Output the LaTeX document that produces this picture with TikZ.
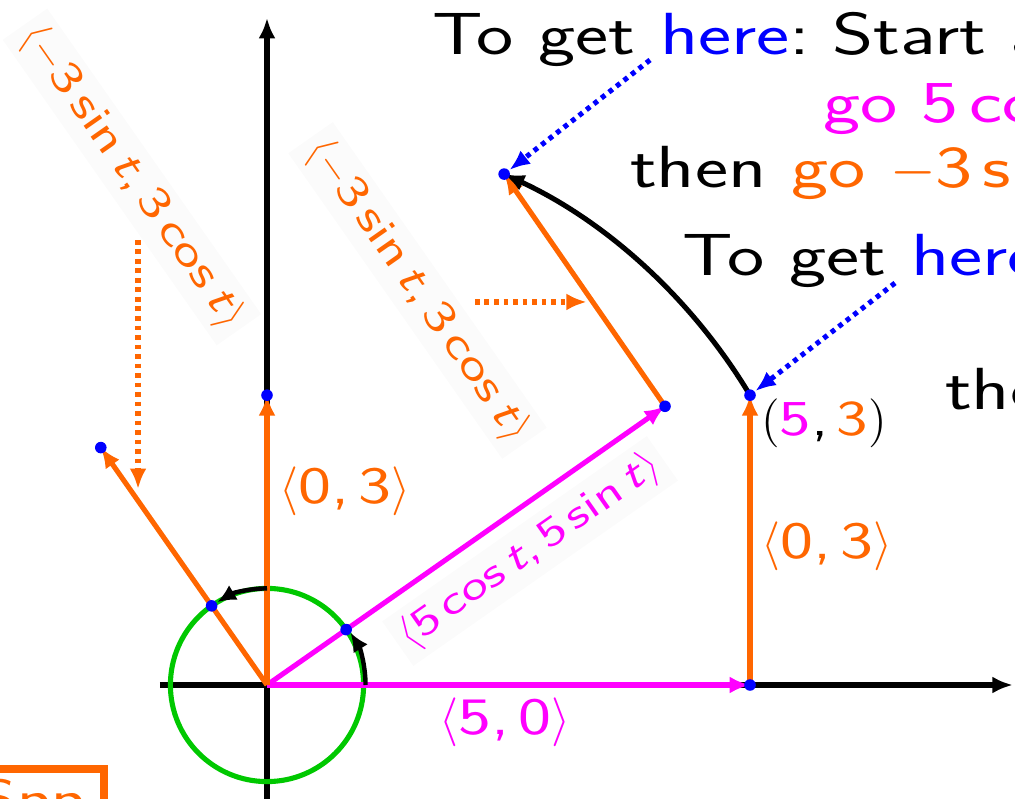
\documentclass[tikz,border=0pt]{standalone}
\usepackage{fontspec}
\setsansfont{Latin Modern Sans}[FakeStretch=1.33]
\usetikzlibrary{arrows.meta}
\definecolor{myorange}{RGB}{255,102,0}
\definecolor{mymag}{RGB}{255,0,255}
\definecolor{mygreen}{RGB}{0,200,0}
\definecolor{myblue}{RGB}{0,0,255}
\newcommand\vt{\textit{t}}
\frenchspacing
\begin{document}
\begin{tikzpicture}[
  font=\sffamily,
  every node/.style={inner sep=0pt, outer sep=0pt},
  tipA/.style={-{Latex[length=6pt,width=5pt]}},
  ax/.style={line width=1.5pt, tipA},
  orvec/.style={myorange, line width=1.5pt, tipA},
  magvec/.style={mymag, line width=1.5pt, tipA},
  bigarc/.style={black, line width=1.5pt, tipA},
  smallarc/.style={black, line width=1.3pt, -{Latex[length=5.5pt,width=5pt]}},
  dotarrow/.style={line width=1.5pt, dash pattern=on 1.4pt off 1.4pt, tipA},
  pt/.style={myblue},
  big/.style={font=\sffamily\fontsize{17.5}{21}\selectfont, anchor=base west},
  lab/.style={font=\sffamily\fontsize{15.5}{18}\selectfont},
  slab/.style={font=\sffamily\fontsize{14.8}{18}\selectfont},
  rlab/.style={font=\sffamily\fontsize{13}{16}\selectfont, fill=black!1.5, inner sep=2pt},
  mlab/.style={font=\sffamily\fontsize{12.2}{15}\selectfont, fill=black!1.5, inner sep=2pt}
]
\useasboundingbox (-2.764,-1.170) rectangle (7.743,7.091);
\clip (-2.764,-1.170) rectangle (7.743,7.091);

% coordinates
\coordinate (O) at (0,0);
\coordinate (xl) at (-1.108,0);
\coordinate (xr) at (7.72,0);
\coordinate (yb) at (0,-1.4);
\coordinate (yt) at (0,6.905);
\coordinate (A) at (5,0);
\coordinate (B) at (0,3);
\coordinate (C) at (5,3);
\coordinate (P) at (35:5.03);
\coordinate (Q) at (65.1:5.831);
\coordinate (R) at (-1.7207,2.4575);
\coordinate (c1) at (35:1);
\coordinate (c2) at (125:1);
\coordinate (a1) at (1.02,0);
\coordinate (a2) at (0,1.0);

% axes
\draw[ax] (xl) -- (xr);
\draw[ax] (yb) -- (yt);

% unit circle
\draw[mygreen, line width=1.5pt] (O) circle (1);

% vectors
\draw[magvec] (O) -- (A);
\draw[magvec] (O) -- (P);
\draw[orvec] (O) -- (B);
\draw[orvec] (A) -- (C);
\draw[orvec] (O) -- (R);
\draw[orvec] (P) -- (Q);
\draw[bigarc] (C) arc[start angle=30.964, end angle=65.1, radius=5.831];

% small angle arcs
\draw[smallarc] (a1) arc[start angle=0, end angle=32, radius=1.02];
\draw[smallarc] (a2) arc[start angle=90, end angle=121, radius=1.0];

% dotted pointers
\coordinate (d1s) at (-1.335,4.607);
\coordinate (d1e) at (-1.335,2.03);
\coordinate (d2s) at (2.153,3.965);
\coordinate (d2e) at (3.31,3.965);
\coordinate (b1s) at (3.965,6.470);
\coordinate (b2s) at (6.501,4.161);
\draw[dotarrow, myorange] (d1s) -- (d1e);
\draw[dotarrow, myorange] (d2s) -- (d2e);
\draw[dotarrow, myblue, shorten >=2pt] (b1s) -- (Q);
\draw[dotarrow, myblue, shorten >=2pt] (b2s) -- (C);

% dots
\foreach \p in {A,B,C,P,Q,R,c1,c2} \fill[pt] (\p) circle (0.06);

% labels
\node[lab, text=myorange] (l03a) at (0.807,2.008) {$\langle$0,\,3$\rangle$};
\node[lab, text=myorange] (l03b) at (5.797,1.439) {$\langle$0,\,3$\rangle$};
\node[lab, text=mymag] (l50) at (2.464,-0.383) {$\langle$5,\,0$\rangle$};
\node[slab] (l53) at (5.766,2.712) {$($\textcolor{mymag}{5},\,\textcolor{myorange}{3}$)$};
\node[rlab, text=myorange, rotate=-55] (rl1) at (-1.398,5.259) {$\langle-$3\,sin\,\vt,\,3\,cos\,\vt$\rangle$};
\node[rlab, text=myorange, rotate=-55] (rl2) at (1.558,4.084) {$\langle-$3\,sin\,\vt,\,3\,cos\,\vt$\rangle$};
\node[mlab, text=mymag, rotate=35] (ml) at (2.723,1.387) {$\langle$5\,cos\,\vt,\,5\,sin\,\vt$\rangle$};

% explanatory text
\node[big] (t1) at (1.708,6.522) {To get \textcolor{myblue}{here}:\hspace{6.5pt}Start at};
\node[big, text=mymag] (t2) at (5.756,5.818) {go 5\,cos\,\vt};
\node[big] (t3) at (3.758,5.155) {then \textcolor{myorange}{go $-$3\,sin\,\vt}};
\node[big] (t4) at (4.306,4.244) {To get \textcolor{myblue}{here}:};
\node[big] (t5) at (7.019,2.847) {then};

% boxed label at bottom left
\coordinate (s1) at (-3,-0.87);
\coordinate (s2) at (-1.687,-2);
\draw[myorange, line width=2.2pt] (s1) rectangle (s2);
\node[lab, text=myorange, anchor=base east] (spp) at (-1.884,-1.366) {Spp};
\end{tikzpicture}
\end{document}
